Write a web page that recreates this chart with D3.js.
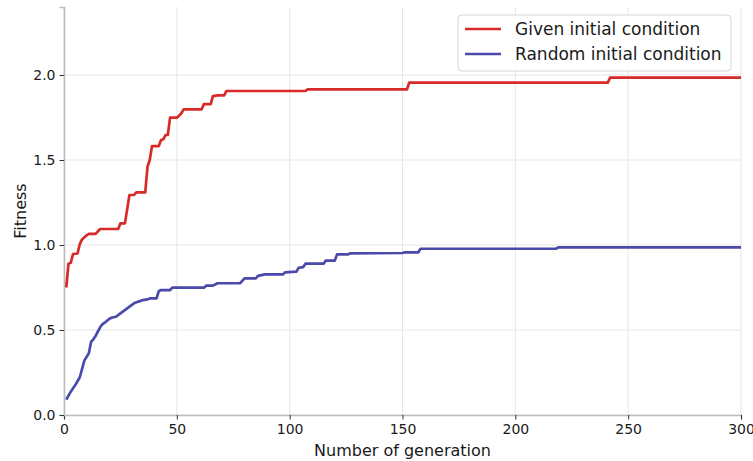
<!DOCTYPE html>
<html>
<head>
<meta charset="utf-8">
<script src="https://cdn.jsdelivr.net/npm/d3@7"></script>
<style>
  body { margin: 0; background: #fff; }
  text { font-family: "DejaVu Sans", sans-serif; fill: #1a1a1a; }
  .grid line { stroke: #e6e6e6; stroke-width: 1; }
  .axis path { stroke: #bdbdbd; stroke-width: 1.6; }
  .axis line { stroke: #333; }
  .axis text { font-size: 14px; fill: #1a1a1a; }
</style>
</head>
<body>
<div id="chart"></div>
<script>
// (generation, fitness) break points
var givenGen = [1, 2, 3, 4, 6, 7, 8, 10, 11, 14, 16, 24, 25, 27, 29, 31, 32, 36, 37, 38, 39, 42, 43, 44, 45, 46, 47, 50, 51, 52, 53, 61, 62, 65, 66, 68, 71, 72, 107, 108, 152, 153, 241, 242, 300];
var givenFit = [0.75, 0.89, 0.895, 0.947, 0.95, 1.005, 1.033, 1.057, 1.065, 1.065, 1.094, 1.094, 1.127, 1.127, 1.294, 1.294, 1.31, 1.31, 1.46, 1.5, 1.582, 1.582, 1.618, 1.622, 1.647, 1.647, 1.749, 1.749, 1.761, 1.775, 1.798, 1.798, 1.829, 1.829, 1.876, 1.88, 1.88, 1.906, 1.906, 1.916, 1.916, 1.955, 1.955, 1.985, 1.985];

var randomGen = [1, 3, 5, 7, 8, 9, 11, 12, 13, 14, 16, 17, 18, 20, 21, 23, 25, 28, 31, 33, 35, 37, 38, 41, 42, 43, 47, 48, 62, 63, 66, 68, 78, 80, 85, 86, 89, 97, 98, 103, 104, 106, 107, 115, 116, 120, 121, 126, 127, 150, 151, 157, 158, 218, 219, 300];
var randomFit = [0.09, 0.137, 0.176, 0.222, 0.27, 0.32, 0.363, 0.43, 0.445, 0.465, 0.516, 0.533, 0.543, 0.565, 0.572, 0.578, 0.598, 0.627, 0.657, 0.667, 0.676, 0.68, 0.686, 0.686, 0.728, 0.735, 0.735, 0.749, 0.749, 0.761, 0.761, 0.775, 0.775, 0.804, 0.804, 0.818, 0.827, 0.827, 0.839, 0.843, 0.866, 0.87, 0.89, 0.89, 0.908, 0.908, 0.945, 0.945, 0.951, 0.953, 0.957, 0.957, 0.978, 0.978, 0.986, 0.986];

var seriesNames = ["Given initial condition", "Random initial condition"];
var seriesColors = ["#d92a2a", "#4a4aab"];
var xTicks = [0, 50, 100, 150, 200, 250, 300];
var yTicks = [0, 0.5, 1.0, 1.5, 2.0];

var margin = { top: 7, left: 64, right: 12, bottom: 46 },
    totalW = 753, totalH = 461,
    width = totalW - margin.left - margin.right,
    height = totalH - margin.top - margin.bottom;

var svg = d3.select("#chart").append("svg")
    .attr("width", totalW)
    .attr("height", totalH)
  .append("g")
    .attr("transform", "translate(" + margin.left + "," + margin.top + ")");

var x = d3.scaleLinear().domain([0, 300]).range([0, width]);
var y = d3.scaleLinear().domain([0, 2.4]).range([height, 0]);

// grid
var grid = svg.append("g").attr("class", "grid");
grid.selectAll(".vx").data(xTicks).enter().append("line")
  .attr("x1", function(d) { return x(d); }).attr("x2", function(d) { return x(d); })
  .attr("y1", 0).attr("y2", height);
grid.selectAll(".hy").data(yTicks).enter().append("line")
  .attr("x1", 0).attr("x2", width)
  .attr("y1", function(d) { return y(d); }).attr("y2", function(d) { return y(d); });

// axes
svg.append("g")
  .attr("class", "axis x-axis")
  .attr("transform", "translate(0," + height + ")")
  .call(d3.axisBottom(x).tickValues(xTicks).tickFormat(d3.format("d")).tickSizeOuter(0).tickSize(4.5).tickPadding(5));

svg.append("g")
  .attr("class", "axis y-axis")
  .call(d3.axisLeft(y).tickValues(yTicks).tickFormat(d3.format(".1f")).tickSizeOuter(0).tickSize(4.5).tickPadding(4));

// labels
svg.append("text")
  .attr("x", width / 2)
  .attr("y", height + 41)
  .attr("text-anchor", "middle")
  .style("font-size", "16px")
  .text("Number of generation");

svg.append("text")
  .attr("transform", "translate(" + (-38) + "," + (height / 2) + ") rotate(-90)")
  .attr("text-anchor", "middle")
  .style("font-size", "16px")
  .text("Fitness");

// lines
var line = d3.line()
  .x(function(d) { return x(d[0]); })
  .y(function(d) { return y(d[1]); });

var series = [d3.zip(givenGen, givenFit), d3.zip(randomGen, randomFit)];

series.forEach(function(pts, i) {
  svg.append("path")
    .datum(pts)
    .attr("d", line)
    .attr("fill", "none")
    .attr("stroke", seriesColors[i])
    .attr("stroke-width", 2.7)
    .attr("stroke-linejoin", "round");
});

// legend
var legend = svg.append("g")
  .attr("transform", "translate(" + (458 - margin.left) + "," + (15 - margin.top) + ")");

legend.append("rect")
  .attr("width", 273)
  .attr("height", 56)
  .attr("rx", 4)
  .attr("fill", "white")
  .attr("fill-opacity", 0.85)
  .attr("stroke", "#d6d6d6");

seriesNames.forEach(function(name, i) {
  var ly = 14 + i * 25;
  legend.append("line")
    .attr("x1", 7).attr("x2", 43)
    .attr("y1", ly).attr("y2", ly)
    .attr("stroke", seriesColors[i])
    .attr("stroke-width", 2.7);
  legend.append("text")
    .attr("x", 57)
    .attr("y", ly + 6)
    .style("font-size", "17px")
    .text(name);
});
</script>
</body>
</html>
